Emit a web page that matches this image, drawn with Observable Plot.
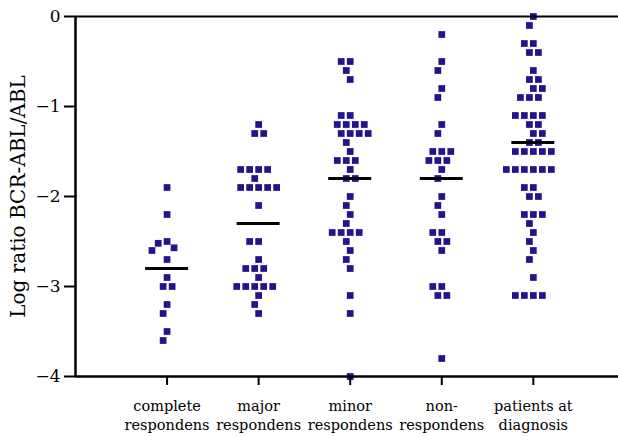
<!DOCTYPE html>
<html><head><meta charset="utf-8">
<script src="https://cdn.jsdelivr.net/npm/d3@7"></script>
<script src="https://cdn.jsdelivr.net/npm/@observablehq/plot@0.6"></script>
<style>body{margin:0;background:#fff} svg{display:block}</style>
</head><body><div id="chart"></div>
<script>
// ---- data ----
const categories = ["complete\nrespondens", "major\nrespondens", "minor\nrespondens", "non-\nrespondens", "patients at\ndiagnosis"];
const complete = [-1.9, -2.2, -2.5, -2.52, -2.57, -2.6, -2.7, -2.9, -3.0, -3.0, -3.2, -3.3, -3.5, -3.6];
const major = [-1.2, -1.3, -1.3, -1.7, -1.7, -1.7, -1.7, -1.8, -1.9, -1.9, -1.9, -1.9, -1.9, -2.1, -2.5, -2.5, -2.7, -2.8, -2.8, -2.8, -2.9, -3.0, -3.0, -3.0, -3.0, -3.0, -3.1, -3.2, -3.3];
const minor = [-0.5, -0.5, -0.6, -0.7, -1.1, -1.1, -1.2, -1.2, -1.2, -1.2, -1.3, -1.3, -1.3, -1.3, -1.4, -1.5, -1.6, -1.6, -1.6, -1.7, -1.8, -1.8, -2.0, -2.1, -2.2, -2.3, -2.4, -2.4, -2.4, -2.4, -2.5, -2.6, -2.7, -2.8, -3.1, -3.3, -4.0];
const nonResponders = [-0.2, -0.5, -0.6, -0.8, -0.9, -1.2, -1.3, -1.5, -1.5, -1.5, -1.6, -1.6, -1.6, -1.7, -1.8, -2.0, -2.1, -2.2, -2.4, -2.4, -2.5, -2.5, -2.6, -3.0, -3.0, -3.1, -3.1, -3.8];
const patients = [0.0, -0.1, -0.3, -0.3, -0.4, -0.4, -0.6, -0.7, -0.7, -0.8, -0.8, -0.9, -0.9, -0.9, -1.1, -1.1, -1.1, -1.1, -1.2, -1.2, -1.3, -1.3, -1.4, -1.4, -1.5, -1.5, -1.5, -1.5, -1.5, -1.7, -1.7, -1.7, -1.7, -1.7, -1.7, -1.9, -1.9, -2.0, -2.0, -2.2, -2.2, -2.2, -2.3, -2.4, -2.5, -2.6, -2.7, -2.9, -3.1, -3.1, -3.1, -3.1];
const groupMeans = [-2.8, -2.3, -1.8, -1.8, -1.4];
const yTicks = [-4, -3, -2, -1, 0];
const yTitle = "Log ratio BCR-ABL/ABL";

// ---- layout ----
const W = 618, H = 436, mL = 75, mR = 0, mT = 16, mB = 60;
const xDomain = [0, 5.93];
const pxX = (W - mL - mR) / (xDomain[1] - xDomain[0]);
const pxY = (H - mT - mB) / 4;

// deterministic beeswarm: spread points horizontally when they would overlap
function swarm(vals) {
  const placed = [], out = [];
  const sx = 9, sy = 10;
  for (const v of vals) {
    const y = -v * pxY;
    const cands = [0];
    for (const p of placed) {
      const dy = Math.abs(p.y - y);
      if (dy < sy) {
        const dx = sx * Math.sqrt(1 - (dy / sy) ** 2);
        cands.push(p.x - dx, p.x + dx);
      }
    }
    cands.sort((a, b) => Math.abs(a) - Math.abs(b) || a - b);
    let best = 0;
    for (const c of cands) {
      if (placed.every(p => ((p.x - c) / sx) ** 2 + ((p.y - y) / sy) ** 2 >= 0.999)) { best = c; break; }
    }
    placed.push({x: best, y});
    out.push(best);
  }
  return out;
}

const groups = [complete, major, minor, nonResponders, patients];
const points = [];
groups.forEach((vals, i) => {
  const sorted = vals.slice().sort((a, b) => b - a);
  const offs = swarm(sorted);
  sorted.forEach((v, k) => points.push({group: categories[i], x: i + 1 + offs[k] / pxX, value: v}));
});
const means = groupMeans.map((m, i) => ({i, mean: m}));
const halfW = 21.5 / pxX;

const chart = Plot.plot({
  width: W, height: H,
  marginLeft: mL, marginRight: mR, marginTop: mT, marginBottom: mB,
  style: {fontFamily: "DejaVu Serif", background: "#fff", color: "#000"},
  x: {domain: xDomain, axis: null},
  y: {domain: [-4, 0], axis: null},
  marks: [
    Plot.dot(points, {x: "x", y: "value", symbol: "square", r: 3.8, fill: "#24148c"}),
    Plot.ruleY(means, {x1: d => d.i + 1 - halfW, x2: d => d.i + 1 + halfW, y: "mean", strokeWidth: 3, stroke: "#000"}),
    Plot.ruleY([0], {x1: xDomain[0], x2: xDomain[1], strokeWidth: 2, stroke: "#000"}),
    Plot.ruleX([0], {y1: -4, y2: 0, strokeWidth: 2.5, stroke: "#000"}),
    Plot.ruleY([-4], {x1: xDomain[0], x2: xDomain[1], strokeWidth: 2.5, stroke: "#000"}),
    Plot.axisY({ticks: yTicks, tickFormat: d => d === 0 ? "0" : "\u2212" + Math.abs(d), tickSize: 11, tickPadding: 4, strokeWidth: 2, fontSize: 17, label: null}),
    Plot.axisX({ticks: [1, 2, 3, 4, 5], tickFormat: d => categories[d - 1], tickSize: 9, tickPadding: 12, strokeWidth: 2, fontSize: 14.5, lineHeight: 1.3, label: null}),
    Plot.text([yTitle], {frameAnchor: "left", textAnchor: "middle", rotate: -90, dx: -57, fontSize: 20, fill: "#000"})
  ]
});
document.getElementById("chart").appendChild(chart);
</script>
</body></html>
